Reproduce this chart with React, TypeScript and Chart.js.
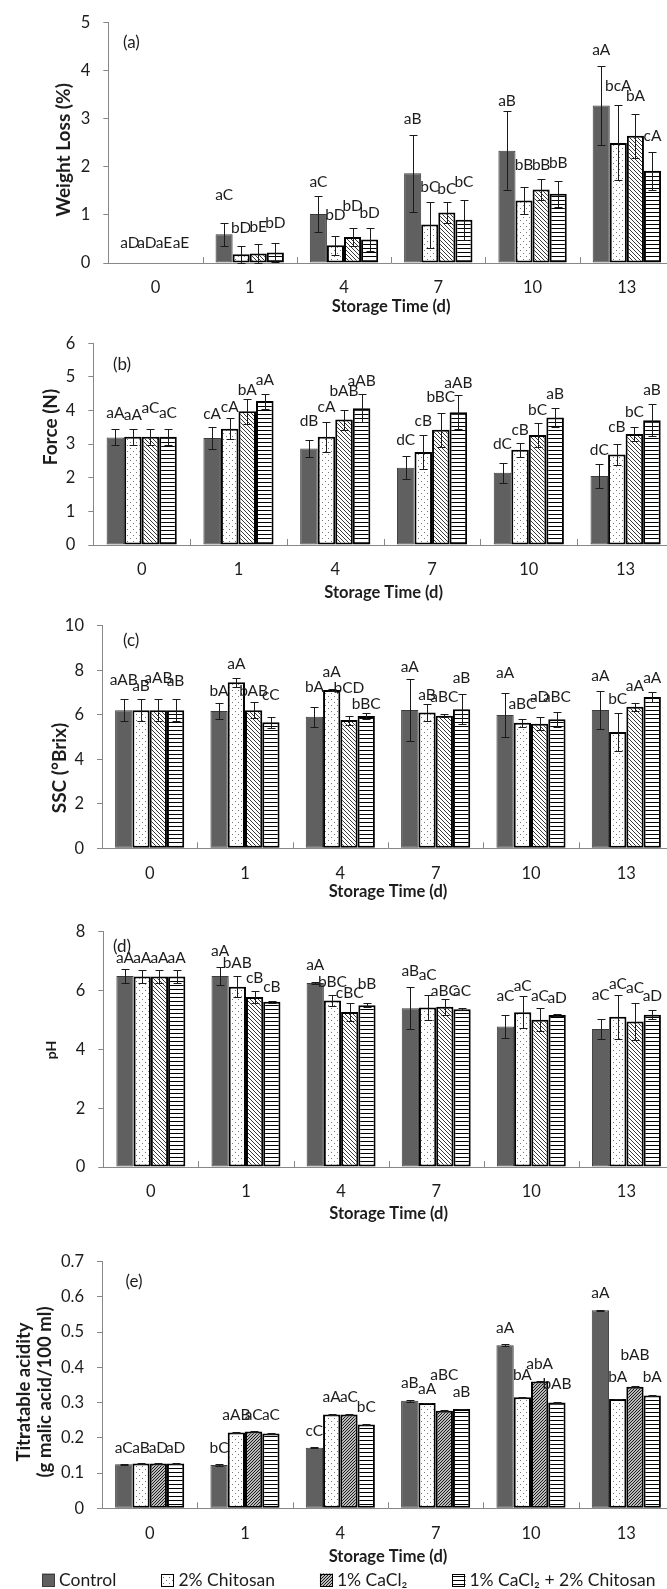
import React, { useEffect, useRef } from 'react';
import { Chart, registerables } from 'chart.js';

Chart.register(...registerables);

// ---------------- data ----------------
const categories = ['0', '1', '4', '7', '10', '13'];
const seriesNames = ['Control', '2% Chitosan', '1% CaCl₂', '1% CaCl₂ + 2% Chitosan'];

// (a) Weight loss (%)
const weightLossMeans = [
  [0, 0.6, 1.02, 1.87, 2.34, 3.28],
  [0, 0.18, 0.37, 0.8, 1.3, 2.5],
  [0, 0.2, 0.54, 1.05, 1.53, 2.65],
  [0, 0.22, 0.49, 0.9, 1.44, 1.92],
];
const weightLossErrors = [
  [0, 0.24, 0.37, 0.8, 0.83, 0.83],
  [0, 0.17, 0.2, 0.48, 0.29, 0.78],
  [0, 0.19, 0.19, 0.22, 0.21, 0.46],
  [0, 0.2, 0.24, 0.42, 0.27, 0.4],
];
const weightLossLetters = [
  ['aD', 'aC', 'aC', 'aB', 'aB', 'aA'],
  ['aD', 'bD', 'bD', 'bC', 'bB', 'bcA'],
  ['aE', 'bE', 'bD', 'bC', 'bB', 'bA'],
  ['aE', 'bD', 'bD', 'bC', 'bB', 'cA'],
];
const weightLossLabelAt = [
  [0.41, 1.42, 1.68, 2.99, 3.37, 4.43],
  [0.41, 0.73, 0.99, 1.59, 2.05, 3.68],
  [0.41, 0.75, 1.18, 1.55, 2.05, 3.47],
  [0.41, 0.84, 1.05, 1.69, 2.08, 2.64],
];

// (b) Force (N)
const forceMeans = [
  [3.2, 3.18, 2.87, 2.3, 2.15, 2.05],
  [3.22, 3.46, 3.22, 2.77, 2.83, 2.69],
  [3.22, 3.98, 3.73, 3.43, 3.27, 3.3],
  [3.22, 4.28, 4.07, 3.95, 3.79, 3.71],
];
const forceErrors = [
  [0.24, 0.33, 0.26, 0.35, 0.3, 0.35],
  [0.24, 0.32, 0.45, 0.5, 0.2, 0.32],
  [0.24, 0.37, 0.3, 0.5, 0.36, 0.2],
  [0.24, 0.22, 0.41, 0.5, 0.29, 0.47],
];
const forceLetters = [
  ['aA', 'cA', 'dB', 'dC', 'dC', 'dC'],
  ['aA', 'cA', 'cA', 'cB', 'cB', 'cB'],
  ['aC', 'bA', 'bAB', 'bBC', 'bC', 'bC'],
  ['aC', 'aA', 'aAB', 'aAB', 'aB', 'aB'],
];
const forceLabelAt = [
  [3.94, 3.91, 3.68, 3.12, 2.99, 2.84],
  [3.86, 4.11, 4.11, 3.68, 3.42, 3.51],
  [4.09, 4.6, 4.57, 4.41, 4.03, 3.96],
  [3.94, 4.9, 4.87, 4.82, 4.48, 4.62],
];

// (c) SSC (°Brix)
const sscMeans = [
  [6.2, 6.17, 5.91, 6.21, 5.99, 6.21],
  [6.2, 7.46, 7.11, 6.1, 5.64, 5.22],
  [6.2, 6.2, 5.76, 5.96, 5.6, 6.36],
  [6.2, 5.66, 5.94, 6.25, 5.8, 6.8],
];
const sscErrors = [
  [0.5, 0.37, 0.45, 1.4, 1.0, 0.85],
  [0.5, 0.2, 0.05, 0.4, 0.18, 0.87],
  [0.5, 0.35, 0.2, 0.08, 0.3, 0.18],
  [0.5, 0.25, 0.15, 0.67, 0.33, 0.24],
];
const sscLetters = [
  ['aAB', 'bA', 'bA', 'aA', 'aA', 'aA'],
  ['aB', 'aA', 'aA', 'aB', 'aBC', 'bC'],
  ['aAB', 'bAB', 'bCD', 'aBC', 'aD', 'aA'],
  ['aB', 'cC', 'bBC', 'aB', 'aBC', 'aA'],
];
const sscLabelAt = [
  [7.56, 7.07, 7.26, 8.16, 7.86, 7.74],
  [7.29, 8.26, 7.9, 6.89, 6.47, 6.69],
  [7.63, 7.07, 7.19, 6.81, 6.81, 7.31],
  [7.53, 6.89, 6.47, 7.63, 6.81, 7.63],
];

// (d) pH
const phMeans = [
  [6.49, 6.49, 6.26, 5.4, 4.78, 4.69],
  [6.48, 6.13, 5.66, 5.42, 5.26, 5.11],
  [6.48, 5.78, 5.27, 5.45, 5.01, 4.95],
  [6.48, 5.62, 5.5, 5.36, 5.17, 5.18],
];
const phErrors = [
  [0.23, 0.3, 0.03, 0.72, 0.4, 0.33],
  [0.23, 0.36, 0.18, 0.42, 0.55, 0.75],
  [0.23, 0.2, 0.32, 0.27, 0.4, 0.62],
  [0.23, 0.04, 0.06, 0.03, 0.02, 0.15],
];
const phLetters = [
  ['aA', 'aA', 'aA', 'aB', 'aC', 'aC'],
  ['aA', 'bAB', 'bBC', 'aC', 'aC', 'aC'],
  ['aA', 'cB', 'cBC', 'aBC', 'aC', 'aC'],
  ['aA', 'cB', 'bB', 'aC', 'aD', 'aD'],
];
const phLabelAt = [
  [7.09, 7.34, 6.86, 6.66, 5.8, 5.84],
  [7.09, 6.94, 6.29, 6.54, 6.16, 6.21],
  [7.09, 6.41, 5.9, 5.99, 5.8, 6.07],
  [7.09, 6.12, 6.21, 5.99, 5.76, 5.8],
];

// (e) Titratable acidity (g malic acid/100 ml)
const taMeans = [
  [0.125, 0.123, 0.172, 0.305, 0.463, 0.562],
  [0.127, 0.215, 0.266, 0.299, 0.315, 0.31],
  [0.127, 0.218, 0.266, 0.277, 0.36, 0.345],
  [0.127, 0.212, 0.238, 0.282, 0.3, 0.32],
];
const taErrors = [
  [0.002, 0.002, 0.002, 0.002, 0.002, 0.002],
  [0.001, 0.001, 0.001, 0.001, 0.001, 0.001],
  [0.001, 0.001, 0.001, 0.001, 0.001, 0.001],
  [0.001, 0.001, 0.001, 0.001, 0.001, 0.001],
];
const taLetters = [
  ['aC', 'bC', 'cC', 'aB', 'aA', 'aA'],
  ['aB', 'aAB', 'aA', 'aA', 'bA', 'bA'],
  ['aD', 'aC', 'aC', 'aBC', 'abA', 'bAB'],
  ['aD', 'aC', 'bC', 'aB', 'bAB', 'bA'],
];
const taLabelAt = [
  [0.172, 0.172, 0.22, 0.355, 0.511, 0.61],
  [0.172, 0.265, 0.317, 0.338, 0.378, 0.372],
  [0.172, 0.265, 0.317, 0.378, 0.411, 0.435],
  [0.172, 0.265, 0.288, 0.331, 0.352, 0.372],
];

// ---------------- styles ----------------
const FONT = 'Lato, "Open Sans", "DejaVu Sans", sans-serif';
const TXT = '#1c1c1c';
const AXIS = '#878787';
const CONTROL_FILL = '#606060';
const CANVAS_W = 674;

type Hatch = 'back' | 'fwd';

interface PanelCfg {
  key: string;
  means: number[][];
  errors: number[][];
  letters: string[][];
  labelAt: number[][];
  yMax: number;
  yStep: number;
  yTitle: string[];
  yTitleX: number[];
  yTitleY: number;
  yTitleSize: number;
  tag: string;
  tagX: number;
  tagY: number;
  canvasTop: number;
  canvasBottom: number;
  plotTop: number;
  plotBottom: number;
  axisX: number;
  xTitleOff: number;
  hatch: Hatch;
  legend?: boolean;
}

const panels: PanelCfg[] = [
  {
    key: 'a', means: weightLossMeans, errors: weightLossErrors, letters: weightLossLetters, labelAt: weightLossLabelAt,
    yMax: 5, yStep: 1, yTitle: ['Weight Loss (%)'], yTitleX: [64], yTitleY: 150, yTitleSize: 19,
    tag: '(a)', tagX: 123, tagY: 43,
    canvasTop: 0, canvasBottom: 318, plotTop: 20, plotBottom: 263, axisX: 108.3, xTitleOff: 43.7, hatch: 'back',
  },
  {
    key: 'b', means: forceMeans, errors: forceErrors, letters: forceLetters, labelAt: forceLabelAt,
    yMax: 6, yStep: 1, yTitle: ['Force (N)'], yTitleX: [51], yTitleY: 427, yTitleSize: 19,
    tag: '(b)', tagX: 113, tagY: 365,
    canvasTop: 318, canvasBottom: 602, plotTop: 343.3, plotBottom: 545, axisX: 93.3, xTitleOff: 48, hatch: 'back',
  },
  {
    key: 'c', means: sscMeans, errors: sscErrors, letters: sscLetters, labelAt: sscLabelAt,
    yMax: 10, yStep: 2, yTitle: ['SSC (°Brix)'], yTitleX: [60], yTitleY: 768, yTitleSize: 19,
    tag: '(c)', tagX: 123, tagY: 641,
    canvasTop: 602, canvasBottom: 905, plotTop: 625.7, plotBottom: 848.3, axisX: 102, xTitleOff: 43.4, hatch: 'back',
  },
  {
    key: 'd', means: phMeans, errors: phErrors, letters: phLetters, labelAt: phLabelAt,
    yMax: 8, yStep: 2, yTitle: ['pH'], yTitleX: [51], yTitleY: 1050, yTitleSize: 14,
    tag: '(d)', tagX: 113, tagY: 947,
    canvasTop: 905, canvasBottom: 1228, plotTop: 931.7, plotBottom: 1167, axisX: 103.3, xTitleOff: 47, hatch: 'back',
  },
  {
    key: 'e', means: taMeans, errors: taErrors, letters: taLetters, labelAt: taLabelAt,
    yMax: 0.7, yStep: 0.1, yTitle: ['Titratable acidity', '(g malic acid/100 ml)'], yTitleX: [24, 45], yTitleY: 1392, yTitleSize: 18.5,
    tag: '(e)', tagX: 125.5, tagY: 1282,
    canvasTop: 1228, canvasBottom: 1589, plotTop: 1261.7, plotBottom: 1508.3, axisX: 102, xTitleOff: 48.4, hatch: 'fwd',
    legend: true,
  },
];

function makePattern(kind: string): CanvasPattern | string {
  const c = document.createElement('canvas');
  const g = c.getContext('2d');
  if (!g) return '#fff';
  if (kind === 'dots') {
    c.width = 6; c.height = 6;
    g.fillStyle = '#fff'; g.fillRect(0, 0, 6, 6);
    g.fillStyle = '#777';
    g.fillRect(1, 1, 1, 1);
    g.fillRect(4, 4, 1, 1);
  } else if (kind === 'back') {
    c.width = 4; c.height = 4;
    g.fillStyle = '#fff'; g.fillRect(0, 0, 4, 4);
    g.strokeStyle = '#3a3a3a'; g.lineWidth = 1;
    g.beginPath();
    g.moveTo(-1, -1); g.lineTo(5, 5);
    g.moveTo(-1, 3); g.lineTo(1, 5);
    g.moveTo(3, -1); g.lineTo(5, 1);
    g.stroke();
  } else if (kind === 'fwd') {
    c.width = 3; c.height = 3;
    g.fillStyle = '#fff'; g.fillRect(0, 0, 3, 3);
    g.strokeStyle = '#111'; g.lineWidth = 1.1;
    g.beginPath();
    g.moveTo(-1, 4); g.lineTo(4, -1);
    g.moveTo(-1, 1); g.lineTo(1, -1);
    g.moveTo(2, 4); g.lineTo(4, 2);
    g.stroke();
  } else {
    c.width = 4; c.height = 4;
    g.fillStyle = '#fff'; g.fillRect(0, 0, 4, 4);
    g.fillStyle = '#000'; g.fillRect(0, 0, 4, 1);
  }
  return g.createPattern(c, 'repeat') || '#fff';
}

function buildChart(canvas: HTMLCanvasElement, p: PanelCfg): Chart {
  const H = p.canvasBottom - p.canvasTop;
  const xH = p.xTitleOff + 9.9;
  const padTop = p.plotTop - p.canvasTop;
  const padBottom = H - (p.plotBottom - p.canvasTop) - xH;
  const fills = [CONTROL_FILL, makePattern('dots'), makePattern(p.hatch), makePattern('horiz')];
  const borders = ['#3c3c3c', '#000', '#000', '#000'];

  const deco = {
    id: 'deco_' + p.key,
    afterDatasetsDraw(chart: any) {
      const { ctx, chartArea, scales } = chart;
      const y = scales.y;
      ctx.save();
      // inside tick marks at category boundaries
      const cw = (chartArea.right - chartArea.left) / categories.length;
      ctx.strokeStyle = AXIS;
      ctx.lineWidth = 1;
      for (let i = 1; i < categories.length; i++) {
        const xx = Math.round(chartArea.left + i * cw) + 0.5;
        ctx.beginPath();
        ctx.moveTo(xx, chartArea.bottom);
        ctx.lineTo(xx, chartArea.bottom - 6);
        ctx.stroke();
      }
      // error bars
      ctx.strokeStyle = '#1a1a1a';
      ctx.lineWidth = 1;
      chart.data.datasets.forEach((_ds: any, di: number) => {
        const meta = chart.getDatasetMeta(di);
        meta.data.forEach((bar: any, i: number) => {
          const v = p.means[di][i];
          const e = p.errors[di][i];
          if (e > 0) {
            const bx = Math.round(bar.x) + 0.5;
            const t = Math.round(y.getPixelForValue(v + e)) + 0.5;
            const b = Math.round(y.getPixelForValue(Math.max(v - e, 0))) + 0.5;
            ctx.beginPath();
            ctx.moveTo(bx, t); ctx.lineTo(bx, b);
            ctx.moveTo(bx - 4, t); ctx.lineTo(bx + 4, t);
            ctx.moveTo(bx - 4, b); ctx.lineTo(bx + 4, b);
            ctx.stroke();
          }
        });
      });
      // letters
      ctx.font = `15.5px ${FONT}`;
      ctx.fillStyle = TXT;
      ctx.textAlign = 'center';
      ctx.textBaseline = 'middle';
      chart.data.datasets.forEach((_ds: any, di: number) => {
        const meta = chart.getDatasetMeta(di);
        meta.data.forEach((bar: any, i: number) => {
          ctx.fillText(p.letters[di][i], bar.x, y.getPixelForValue(p.labelAt[di][i]));
        });
      });
      // panel tag
      ctx.font = `17px ${FONT}`;
      ctx.textAlign = 'left';
      ctx.fillText(p.tag, p.tagX, p.tagY - p.canvasTop);
      ctx.restore();
    },
    afterDraw(chart: any) {
      const { ctx } = chart;
      ctx.save();
      // y axis title
      ctx.font = `bold ${p.yTitleSize}px ${FONT}`;
      ctx.fillStyle = TXT;
      ctx.textAlign = 'center';
      ctx.textBaseline = 'middle';
      p.yTitle.forEach((t, k) => {
        ctx.save();
        ctx.translate(p.yTitleX[k], p.yTitleY - p.canvasTop);
        ctx.rotate(-Math.PI / 2);
        ctx.fillText(t, 0, 0);
        ctx.restore();
      });
      // legend
      if (p.legend) {
        const yc = 1580 - p.canvasTop;
        ctx.font = `17.5px ${FONT}`;
        ctx.textAlign = 'left';
        ctx.textBaseline = 'middle';
        let x = 42;
        seriesNames.forEach((name, i) => {
          ctx.fillStyle = fills[i];
          ctx.fillRect(x, yc - 6.5, 13, 13);
          ctx.strokeStyle = borders[i];
          ctx.lineWidth = 1;
          ctx.strokeRect(Math.round(x) + 0.5, Math.round(yc - 6.5) + 0.5, 12, 12);
          ctx.fillStyle = TXT;
          ctx.fillText(name, x + 17, yc);
          x += 17 + ctx.measureText(name).width + 45;
        });
      }
      ctx.restore();
    },
  };

  return new Chart(canvas, {
    type: 'bar',
    data: {
      labels: categories,
      datasets: p.means.map((m, si) => ({
        label: seriesNames[si],
        data: m,
        backgroundColor: fills[si] as any,
        borderColor: borders[si],
        borderWidth: si === 0 ? 1 : 2,
        borderSkipped: false,
        categoryPercentage: 0.725,
        barPercentage: 1,
      })),
    },
    options: {
      responsive: false,
      animation: false,
      devicePixelRatio: 1,
      layout: { padding: { top: padTop, left: 0, right: 0, bottom: padBottom } },
      plugins: { legend: { display: false }, tooltip: { enabled: false } },
      scales: {
        x: {
          grid: { display: false, drawTicks: false },
          border: { display: true, color: AXIS, width: 1 },
          ticks: { font: { family: FONT, size: 16.5 }, color: TXT, padding: 15.2, autoSkip: false, maxRotation: 0 },
          title: {
            display: true, text: 'Storage Time (d)', color: TXT,
            font: { family: FONT, size: 16.5, weight: 'bold' }, padding: { top: 0, bottom: 0 },
          },
          afterFit: (s: any) => { s.height = xH; },
        },
        y: {
          min: 0,
          max: p.yMax,
          ticks: { stepSize: p.yStep, font: { family: FONT, size: 16.5 }, color: TXT, padding: 13 },
          grid: { drawOnChartArea: false, drawTicks: true, tickLength: 5, color: AXIS },
          border: { display: true, color: AXIS, width: 1 },
          afterFit: (s: any) => { s.width = p.axisX; },
        },
      },
    } as any,
    plugins: [deco],
  });
}

export default function App() {
  const refs = useRef<(HTMLCanvasElement | null)[]>([]);
  useEffect(() => {
    const charts = panels.map((p, i) => buildChart(refs.current[i] as HTMLCanvasElement, p));
    return () => { charts.forEach((c) => c.destroy()); };
  }, []);
  return (
    <div style={{ position: 'absolute', left: 0, top: 0, width: 667, height: 1589, overflow: 'hidden', background: '#fff' }}>
      {panels.map((p, i) => (
        <canvas
          key={p.key}
          ref={(el) => { refs.current[i] = el; }}
          width={CANVAS_W}
          height={p.canvasBottom - p.canvasTop}
          style={{ position: 'absolute', left: 0, top: p.canvasTop, width: CANVAS_W, height: p.canvasBottom - p.canvasTop }}
        />
      ))}
    </div>
  );
}
